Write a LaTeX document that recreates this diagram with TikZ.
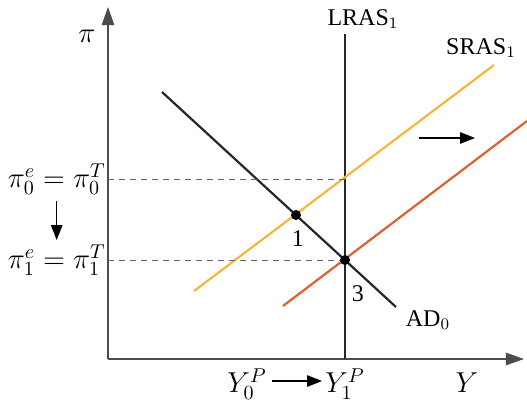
\documentclass[tikz,border=0pt]{standalone}
\usepackage{fontspec}
\setmainfont{Liberation Serif}
\usetikzlibrary{arrows.meta, positioning, calc}
\definecolor{srasold}{RGB}{243,182,62}
\definecolor{srasnew}{RGB}{222,96,48}

\begin{document}
\begin{tikzpicture}[
    x=0.5pt, y=-0.5pt,
    axis/.style={-{Triangle[length=3.2mm, width=2.2mm]}, line width=0.7pt, color=black!70},
    guide/.style={dash pattern=on 3pt off 2.5pt, line width=0.5pt, color=black!60},
    curve/.style={line width=1.1pt},
    move/.style={-{Triangle[length=2.6mm, width=2mm]}, line width=0.6pt},
    dot/.style={circle, fill=black, inner sep=0pt, minimum size=5pt},
    lbl/.style={inner sep=1pt, font=\large},
    biglbl/.style={inner sep=1pt, font=\Large},
]
\useasboundingbox (0,0) rectangle (527,403);
% axes
\coordinate (origin) at (108,359);
\coordinate (ytop) at (108,7);
\coordinate (xend) at (524,359);
\draw[axis] (origin) -- (ytop);
\draw[axis] (origin) -- (xend);
\node[biglbl] (pilab) at (87,36) {$\pi$};
\node[biglbl] (ylab) at (467,383) {$Y$};

\coordinate (pi0) at (345,179);

% long run supply
\coordinate (lrastop) at (345,34);
\coordinate (lrasbot) at (345,359);
\draw[curve, color=black!85] (lrastop) -- (lrasbot);
\node[lbl] (lraslab) at (363,19) {LRAS$_1$};

% short run supply, before and after
\coordinate (sras0a) at (194,291);
\coordinate (sras0b) at (494,65);
\draw[curve, color=srasold] (sras0a) -- (sras0b);
\coordinate (sras1a) at (283,306);
\coordinate (sras1b) at (527,121);
\draw[curve, color=srasnew] (sras1a) -- (sras1b);
\node[lbl] (sraslab) at (481,48) {SRAS$_1$};

% demand
\coordinate (ada) at (162,92);
\coordinate (adb) at (396,307);
\draw[curve, color=black!85] (ada) -- (adb);
\node[lbl] (adlab) at (428,320) {AD$_0$};

% equilibria
\node[dot] (p1) at (296,215) {};
\node[dot] (p3) at (345,260) {};
\node[lbl] (n1) at (298,239) {1};
\node[lbl] (n3) at (358,294) {3};

% guides to the axis
\draw[guide] (origin |- pi0) -- (pi0);
\draw[guide] (origin |- p3) -- (p3);

% inflation labels
\node[biglbl, left=0pt of origin |- pi0] (pi0lab) {$\pi_0^e = \pi_0^T$};
\node[biglbl, left=0pt of origin |- p3] (pi1lab) {$\pi_1^e = \pi_1^T$};
\path (pi0lab.south) ++(0,4) coordinate (pa) (pi1lab.north) ++(0,-2) coordinate (pb);
\draw[move] (pa) -- (pb);

% output labels
\node[biglbl] (y1lab) at (345,384) {$Y_1^P$};
\node[biglbl] (y0lab) at (247,384) {$Y_0^P$};
\path (y0lab.east) ++(3,-3) coordinate (ya) (y1lab.west) ++(-1,-3) coordinate (yb);
\draw[move] (ya) -- (yb);

% shift arrow
\coordinate (sa) at (419,138);
\coordinate (sb) at (475,138);
\draw[move] (sa) -- (sb);
\end{tikzpicture}
\end{document}
